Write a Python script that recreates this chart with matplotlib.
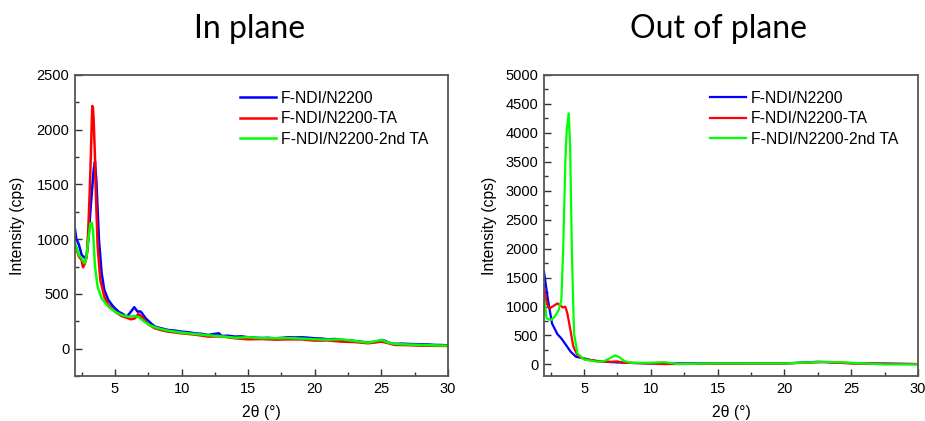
import matplotlib
matplotlib.use("Agg")
import matplotlib.pyplot as plt
from matplotlib.ticker import MultipleLocator

plt.rcParams['font.family'] = ['Liberation Sans', 'DejaVu Sans']

labels = ["F-NDI/N2200", "F-NDI/N2200-TA", "F-NDI/N2200-2nd TA"]
colors = ["#0000ff", "#ff0000", "#00ff00"]

# ---- In plane ----
ip_blue_x = [2.0, 2.1, 2.2, 2.3, 2.5, 2.7, 2.85, 3.0, 3.2, 3.4, 3.5, 3.6, 3.8, 4.0, 4.2, 4.5, 4.8,
             5.0, 5.3, 5.5, 5.9, 6.2, 6.45, 6.7, 6.9, 7.0, 7.3, 7.7, 8.0, 8.5, 9.0, 9.5, 10.0,
             10.5, 11.0, 11.5, 12.0, 12.5, 12.8, 13.0, 13.5, 14.0, 14.5, 15.0, 15.5, 16.0,
             16.5, 17.0, 17.5, 18.0, 18.5, 19.0, 19.5, 20.0, 20.5, 21.0, 21.5, 22.0, 22.5,
             23.0, 23.5, 24.0, 24.5, 24.8, 25.0, 25.3, 25.5, 26.0, 26.5, 27.0, 27.5, 28.0,
             28.5, 29.0, 29.5, 30.0]
ip_blue_y = [1090, 1000, 977, 947, 856, 834, 825, 993, 1328, 1632, 1708, 1540, 993, 688, 536, 445, 395,
             368, 335, 323, 292, 338, 378, 338, 340, 329, 277, 231, 201, 185, 170, 165, 155,
             150, 140, 135, 125, 135, 140, 116, 118, 110, 112, 104, 100, 97,
             99, 94, 98, 104, 102, 104, 100, 94, 92, 85, 88, 79, 76,
             70, 62, 58, 60, 64, 79, 70, 55, 43, 46, 43, 41, 40,
             38, 34, 33, 30]

ip_red_x = [2.0, 2.3, 2.5, 2.6, 2.75, 2.9, 3.0, 3.1, 3.2, 3.25, 3.3, 3.35, 3.4, 3.5, 3.55, 3.7, 3.9,
            4.2, 4.5, 5.0, 5.5, 6.0, 6.2, 6.5, 6.75, 7.0, 7.5, 8.0, 8.5, 9.0, 10.0, 11.0, 12.0,
            13.0, 14.0, 15.0, 16.0, 17.0, 18.0, 19.0, 20.0, 21.0, 22.0, 23.0, 24.0, 25.0,
            25.5, 26.0, 27.0, 28.0, 29.0, 30.0]
ip_red_y = [950, 840, 810, 743, 780, 871, 1100, 1419, 1800, 2028, 2217, 2200, 2089, 1750, 1480, 932, 627,
            475, 399, 338, 298, 277, 268, 277, 317, 292, 222, 186, 168, 155, 140, 128, 110,
            112, 95, 85, 88, 82, 85, 84, 73, 75, 64, 60, 49, 64,
            50, 34, 32, 27, 26, 24]

ip_green_x = [2.0, 2.3, 2.5, 2.7, 2.85, 3.0, 3.15, 3.25, 3.35, 3.5, 3.7, 4.0, 4.5, 5.0, 5.5, 6.0,
              6.5, 6.8, 7.2, 7.6, 8.0, 8.5, 9.0, 10.0, 11.0, 12.0, 13.0, 14.0, 15.0, 16.0, 17.0,
              18.0, 19.0, 20.0, 21.0, 22.0, 23.0, 24.0, 25.0, 25.5, 26.0, 27.0, 28.0, 29.0, 30.0]
ip_green_y = [965, 856, 825, 780, 825, 993, 1145, 1151, 1084, 749, 566, 460, 384, 338, 307, 292,
              298, 286, 247, 216, 195, 178, 164, 146, 134, 122, 112, 100, 104, 96, 95,
              97, 92, 85, 82, 85, 70, 55, 79, 55, 43, 38, 34, 30, 27]

# ---- Out of plane ----
op_blue_x = [2.0, 2.3, 2.6, 3.0, 3.3, 3.6, 4.0, 4.4, 5.0, 5.5, 6.0, 7.0, 8.0, 10.0, 15.0, 20.0,
             22.5, 25.0, 30.0]
op_blue_y = [1601, 1112, 708, 524, 449, 351, 219, 132, 104, 75, 58, 40, 29, 17, 17, 17,
             46, 23, 6]

op_red_x = [2.0, 2.2, 2.4, 2.7, 3.0, 3.2, 3.4, 3.6, 3.75, 4.0, 4.2, 4.5, 5.0, 6.0, 7.0, 7.5,
            8.0, 10.0, 11.0, 15.0, 20.0, 23.0, 25.0, 30.0]
op_red_y = [1342, 1054, 968, 1008, 1054, 1025, 985, 997, 881, 565, 305, 161, 92, 58, 46, 52,
            29, 17, 6, 12, 17, 40, 17, 6]

op_green_x = [2.0, 2.2, 2.5, 2.8, 3.1, 3.3, 3.45, 3.6, 3.7, 3.85, 3.95, 4.1, 4.25, 4.5, 5.0, 6.0,
              6.5, 7.0, 7.3, 7.6, 8.0, 8.5, 10.0, 11.0, 12.0, 15.0, 20.0, 23.0, 25.0, 27.5, 30.0]
op_green_y = [1140, 795, 766, 824, 939, 1112, 2091, 3531, 4050, 4338, 3820, 1803, 536, 190, 86, 46,
              58, 115, 156, 132, 58, 29, 29, 40, 6, 17, 17, 46, 29, 0, 0]

x_ticks = [5, 10, 15, 20, 25, 30]

fig = plt.figure(figsize=(9.25, 4.21), dpi=100)
ax1 = fig.add_axes([75/925, 1-376/421, (448-75)/925, (376-75)/421])
ax2 = fig.add_axes([544/925, 1-376/421, (918-544)/925, (376-75)/421])

spine_col = "#555555"

def style(ax, ylim, ymajor, ylabelpad):
    ax.set_xlim(2, 30)
    ax.set_ylim(*ylim)
    ax.set_xticks(x_ticks)
    ax.xaxis.set_minor_locator(MultipleLocator(2.5))
    ax.yaxis.set_major_locator(MultipleLocator(ymajor))
    ax.yaxis.set_minor_locator(MultipleLocator(ymajor / 2))
    ax.tick_params(which='both', direction='in', top=False, right=False,
                   color='#333333', labelsize=10.5, width=1.0)
    ax.tick_params(which='major', length=5, pad=4)
    ax.tick_params(which='minor', length=3)
    for s in ax.spines.values():
        s.set_color(spine_col)
        s.set_linewidth(1.3)
    ax.set_xlabel("2θ (°)", fontsize=11.3, labelpad=7)
    ax.set_ylabel("Intensity (cps)", fontsize=11.3, labelpad=ylabelpad)
    ax.legend(loc='upper right', frameon=False, fontsize=11.3, handlelength=2.3,
              handletextpad=0.3, labelspacing=0.35, borderaxespad=0.6,
              bbox_to_anchor=(0.99, 1.0))

ip = [(ip_blue_x, ip_blue_y), (ip_red_x, ip_red_y), (ip_green_x, ip_green_y)]
op = [(op_blue_x, op_blue_y), (op_red_x, op_red_y), (op_green_x, op_green_y)]

for (xs, ys), c, lab in zip(ip, colors, labels):
    ax1.plot(xs, ys, color=c, lw=1.8, label=lab)
for (xs, ys), c, lab in zip(op, colors, labels):
    ax2.plot(xs, ys, color=c, lw=1.6, label=lab)

style(ax1, (-250, 2500), 500, 8)
style(ax2, (-200, 5000), 500, 6)
ax2.yaxis.set_minor_locator(MultipleLocator(250))

fig.text(250/925, 1-38/421, "In plane", fontsize=23, family=['Lato', 'DejaVu Sans'],
         ha='center', va='baseline')
fig.text(719/925, 1-38/421, "Out of plane", fontsize=23, family=['Lato', 'DejaVu Sans'],
         ha='center', va='baseline')

fig.savefig("out.png", dpi=100)
